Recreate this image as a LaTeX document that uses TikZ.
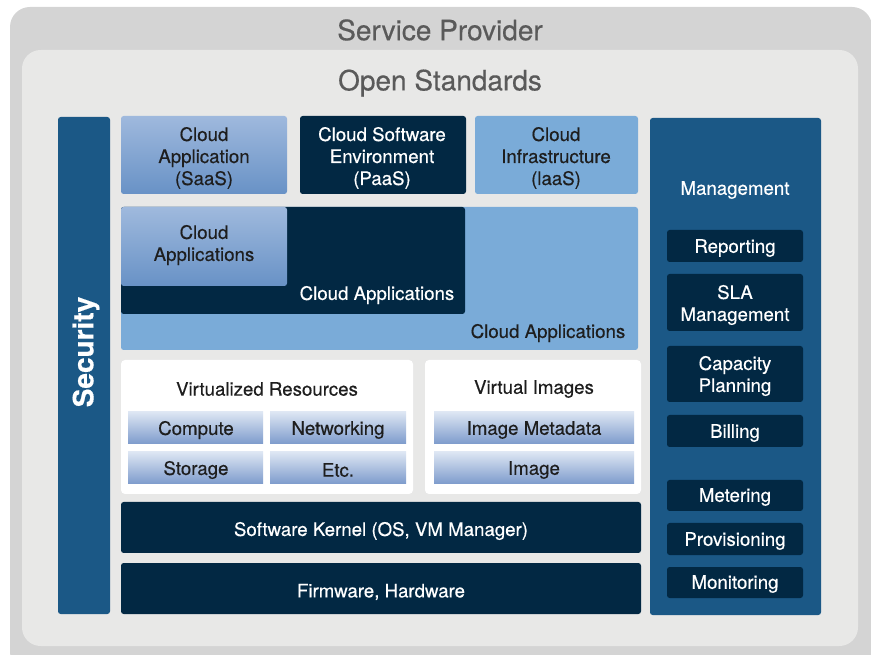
\documentclass[tikz,border=0pt]{standalone}
\usepackage{fontspec}
\setmainfont[FakeBold=0.4]{TeX Gyre Heros}
\usepackage{xcolor}
\usepackage{tikz}
\usetikzlibrary{positioning,calc}

\definecolor{outergray}{HTML}{D4D4D4}
\definecolor{innergray}{HTML}{E8E8E7}
\definecolor{titlegray}{HTML}{5A5A5A}
\definecolor{midblue}{HTML}{1B5886}
\definecolor{navy}{HTML}{022843}
\definecolor{lightblue}{HTML}{7AABD8}
\definecolor{saastop}{HTML}{9FB9DD}
\definecolor{saasbot}{HTML}{6892C6}
\definecolor{celltop}{HTML}{DDE6F3}
\definecolor{cellmid}{HTML}{CBD8EC}
\definecolor{cellbot}{HTML}{7D9BCC}
\definecolor{darktext}{HTML}{1E1E1E}

\tikzset{
  title/.style={font=\fontsize{21}{25}\selectfont, text=titlegray},
  lbl/.style={font=\fontsize{14}{16.5}\selectfont, align=center, text=darktext, yshift=-1.5pt},
  wlbl/.style={lbl, text=white},
  darkbox/.style={fill=navy, rounded corners=2pt},
  bluebox/.style={fill=lightblue, rounded corners=2pt},
  gradbox/.style={top color=saastop, bottom color=saasbot, rounded corners=2pt},
  cellbox/.style={top color=celltop, middle color=cellmid, bottom color=cellbot},
  panel/.style={fill=midblue, rounded corners=2pt}
}

\begin{document}
\begin{tikzpicture}[x=0.75pt,y=-0.75pt]
    \useasboundingbox (0,0) rectangle (871,655);
    \clip (0,0) rectangle (871,655);

    % frames
    \fill[outergray, rounded corners=15pt] (10,7) rectangle (872,672);
    \fill[innergray, rounded corners=14pt] (22,50) rectangle (858,646);
    \node[title] (provider) at (440,30) {Service Provider};
    \node[title] (standards) at (440,83) {Open Standards};

    % side panels
    \fill[panel] (58,117) rectangle (110,614);
    \node[wlbl, font=\fontsize{21}{24}\selectfont\bfseries, rotate=90, yshift=0pt] (security) at (86,350) {Security};
    \fill[panel] (650,118) rectangle (821,615);
    \node[wlbl] (mgmt) at (735,188) {Management};

    % service models
    \shade[gradbox] (121,116) rectangle (287,194);
    \node[lbl] (saas) at (204,156) {Cloud\\Application\\(SaaS)};
    \fill[darkbox] (300,116) rectangle (466,194);
    \node[wlbl] (paas) at (382,156) {Cloud Software\\Environment\\(PaaS)};
    \fill[bluebox] (475,116) rectangle (638,194);
    \node[lbl] (iaas) at (556,156) {Cloud\\Infrastructure\\(laaS)};

    % nested applications
    \fill[bluebox] (121,207) rectangle (638,350);
    \fill[darkbox] (121,207) rectangle (465,314);
    \shade[gradbox] (121,207) rectangle (287,286);
    \node[lbl] (appsa) at (204,243) {Cloud\\Applications};
    \node[wlbl] (appsb) at (377,293) {Cloud Applications};
    \node[lbl] (appsc) at (548,331) {Cloud Applications};

    % virtualized resources
    \fill[white, rounded corners=3pt] (121,360) rectangle (413,494);
    \node[lbl] (vres) at (267,387) {Virtualized Resources};
    \shade[cellbox] (128,412) rectangle (263,444);
    \node[lbl] (compute) at (196,428) {Compute};
    \shade[cellbox] (270,412) rectangle (406,444);
    \node[lbl] (network) at (338,428) {Networking};
    \shade[cellbox] (128,452) rectangle (263,484);
    \node[lbl] (storage) at (196,468) {Storage};
    \shade[cellbox] (270,452) rectangle (406,484);
    \node[lbl] (etc) at (338,468) {Etc.};

    % virtual images
    \fill[white, rounded corners=3pt] (425,360) rectangle (641,494);
    \node[lbl] (vimg) at (534,387) {Virtual Images};
    \shade[cellbox] (434,412) rectangle (634,444);
    \node[lbl] (imgmeta) at (534,428) {Image Metadata};
    \shade[cellbox] (434,452) rectangle (634,484);
    \node[lbl] (image) at (534,468) {Image};

    % lower layers
    \fill[darkbox] (121,502) rectangle (641,553);
    \node[wlbl] (kernel) at (381,529) {Software Kernel (OS, VM Manager)};
    \fill[darkbox] (121,563) rectangle (641,614);
    \node[wlbl] (firmware) at (381,590) {Firmware, Hardware};

    % management items
    \fill[darkbox] (667,230) rectangle (803,262);
    \node[wlbl] (reporting) at (735,246) {Reporting};
    \fill[darkbox] (667,274) rectangle (803,331);
    \node[wlbl] (sla) at (735,303) {SLA\\Management};
    \fill[darkbox] (667,346) rectangle (803,402);
    \node[wlbl] (capacity) at (735,374) {Capacity\\Planning};
    \fill[darkbox] (667,415) rectangle (803,447);
    \node[wlbl] (billing) at (735,431) {Billing};
    \fill[darkbox] (667,480) rectangle (803,511);
    \node[wlbl] (metering) at (735,495) {Metering};
    \fill[darkbox] (667,523) rectangle (803,555);
    \node[wlbl] (provisioning) at (735,539) {Provisioning};
    \fill[darkbox] (667,567) rectangle (803,598);
    \node[wlbl] (monitoring) at (735,582) {Monitoring};
  \end{tikzpicture}
\end{document}
